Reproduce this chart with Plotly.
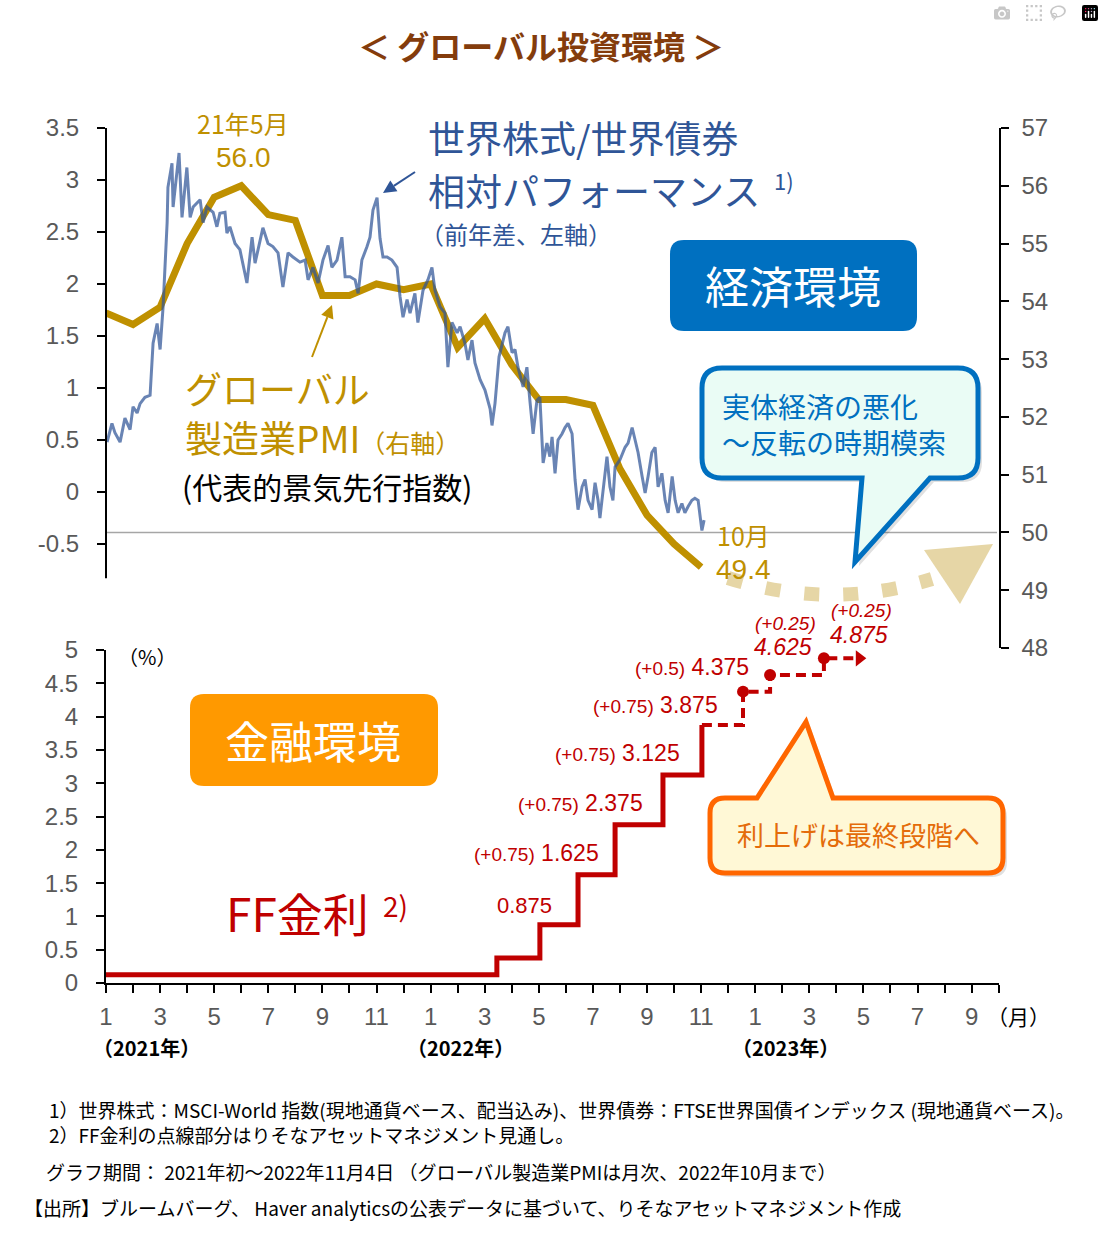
import plotly.graph_objects as go

W, H = 1104, 1246


def px(x):
    return x / W


def py(y):
    return 1 - y / H


# ---------------- data ----------------
# x positions are "months elapsed since 1 Jan 2021"
# Global manufacturing PMI (right axis), Dec-2020 .. Oct-2022, plotted at month ends
pmi_month = [0, 1, 2, 3, 4, 5, 6, 7, 8, 9, 10, 11, 12, 13, 14, 15, 16, 17, 18, 19, 20, 21, 22]
pmi_value = [53.8, 53.6, 53.9, 55.0, 55.8, 56.0, 55.5, 55.4, 54.1, 54.1, 54.3, 54.2,
             54.3, 53.2, 53.7, 52.9, 52.3, 52.3, 52.2, 51.1, 50.3, 49.8, 49.4]

# World equity / world bond relative performance (YoY, left axis)
rel_month = [0.04, 0.22, 0.33, 0.52, 0.70, 0.89, 1.00, 1.15, 1.26, 1.44, 1.63, 1.70, 1.74, 1.89,
             2.00, 2.11, 2.18, 2.26, 2.29, 2.44, 2.48, 2.62, 2.70, 2.81, 2.92, 2.99, 3.11, 3.22,
             3.48, 3.59, 3.73, 3.96, 4.10, 4.21, 4.40, 4.47, 4.58, 4.77, 4.95, 5.21, 5.40, 5.51,
             5.80, 5.99, 6.17, 6.36, 6.54, 6.73, 6.91, 7.17, 7.36, 7.47, 7.65, 7.84, 8.02, 8.21,
             8.35, 8.54, 8.72, 8.84, 9.02, 9.21, 9.32, 9.46, 9.65, 9.76, 9.87, 10.02, 10.13,
             10.24, 10.39, 10.57, 10.76, 10.87, 10.98, 11.13, 11.24, 11.42, 11.53, 11.72, 11.90,
             12.05, 12.16, 12.35, 12.53, 12.64, 12.79, 12.98, 13.09, 13.27, 13.38, 13.53, 13.64,
             13.83, 14.01, 14.20, 14.27, 14.38, 14.53, 14.75, 14.86, 15.01, 15.12, 15.23, 15.42,
             15.56, 15.67, 15.79, 15.93, 16.04, 16.16, 16.30, 16.41, 16.49, 16.60, 16.71, 16.86,
             16.97, 17.08, 17.23, 17.34, 17.45, 17.60, 17.71, 17.82, 17.97, 18.08, 18.19, 18.26,
             18.37, 18.52, 18.63, 18.74, 18.82, 19.00, 19.19, 19.30, 19.45, 19.56, 19.67, 19.82,
             19.93, 20.04, 20.18, 20.30, 20.41, 20.55, 20.67, 20.78, 20.93, 21.04, 21.15, 21.29,
             21.40, 21.52, 21.66, 21.77, 21.89, 22.03, 22.11]
rel_value = [0.48, 0.66, 0.57, 0.48, 0.71, 0.60, 0.82, 0.76, 0.85, 0.91, 0.93, 1.20, 1.43, 1.62,
             1.37, 1.78, 2.16, 2.59, 2.93, 3.16, 2.74, 3.10, 3.26, 2.64, 2.90, 3.12, 2.64, 2.74,
             2.81, 2.59, 2.74, 2.69, 2.55, 2.68, 2.69, 2.49, 2.55, 2.39, 2.33, 2.01, 2.45, 2.20,
             2.54, 2.39, 2.36, 2.30, 1.97, 2.30, 2.26, 2.21, 2.23, 2.04, 2.16, 2.01, 2.23, 2.37,
             2.16, 2.23, 2.45, 2.07, 2.07, 2.04, 1.91, 2.23, 2.36, 2.45, 2.71, 2.83, 2.44,
             2.26, 2.26, 2.23, 2.16, 1.88, 1.68, 1.85, 1.72, 1.91, 1.63, 1.94, 2.04,
             2.16, 1.94, 1.78, 1.72, 1.20, 1.63, 1.53, 1.59, 1.43, 1.27, 1.46, 1.24,
             1.08, 0.98, 0.80, 0.64, 0.85, 1.30, 1.53, 1.59, 1.34, 1.37, 1.20, 1.01,
             1.20, 0.88, 0.56, 0.88, 0.91, 0.28, 0.47, 0.34, 0.53, 0.18, 0.50, 0.56,
             0.62, 0.66, 0.56, 0.12, -0.17, 0.05, 0.12, -0.08, -0.17, 0.09, -0.08, -0.25,
             -0.01, 0.34, 0.05, -0.08, 0.24, 0.31, 0.43, 0.47, 0.62, 0.50, 0.38, 0.15,
             -0.01, 0.15, 0.38, 0.43, 0.05, 0.18, -0.08, -0.20, 0.15, -0.08, -0.20, -0.11,
             -0.20, -0.14, -0.08, -0.06, -0.08, -0.37, -0.27]

# FF rate (%), actual (solid) and outlook (dashed)
ff_month = [0, 14.45, 16.04, 17.45, 18.82, 20.59, 22.03]
ff_rate = [0.125, 0.375, 0.875, 1.625, 2.375, 3.125, 3.875]
ff_fcst_month = [22.03, 23.55, 24.55, 26.54, 27.65]
ff_fcst_rate = [3.875, 4.375, 4.625, 4.875, 4.875]
ff_dot_month = [23.55, 24.55, 26.54]
ff_dot_rate = [4.375, 4.625, 4.875]
ff_arrow_month = [27.85]
ff_arrow_rate = [4.875]

# tick labels
x_tick_vals = list(range(34))
x_tick_text = ["1", "", "3", "", "5", "", "7", "", "9", "", "11", "",
               "1", "", "3", "", "5", "", "7", "", "9", "", "11", "",
               "1", "", "3", "", "5", "", "7", "", "9", ""]
left_tick_vals = [-0.5, 0, 0.5, 1, 1.5, 2, 2.5, 3, 3.5]
left_tick_text = ["-0.5", "0", "0.5", "1", "1.5", "2", "2.5", "3", "3.5"]
right_tick_vals = [48, 49, 50, 51, 52, 53, 54, 55, 56, 57]
right_tick_text = ["48", "49", "50", "51", "52", "53", "54", "55", "56", "57"]
ff_tick_vals = [0, 0.5, 1, 1.5, 2, 2.5, 3, 3.5, 4, 4.5, 5]
ff_tick_text = ["0", "0.5", "1", "1.5", "2", "2.5", "3", "3.5", "4", "4.5", "5"]

# ---------------- styles ----------------
GOLD = "#BF9000"
BLUE_TXT = "#2F5597"
RED = "#C00000"
CJK = "Noto Sans CJK JP"
NUM = "Liberation Sans, Arial, Noto Sans CJK JP"
TICKC = "#595959"

fig = go.Figure()

fig.add_trace(go.Scatter(x=pmi_month, y=pmi_value, mode="lines", yaxis="y", xaxis="x",
                         line=dict(color=GOLD, width=7), showlegend=False, hoverinfo="skip"))
fig.add_trace(go.Scatter(x=rel_month, y=rel_value, mode="lines", yaxis="y2", xaxis="x",
                         line=dict(color="rgba(47,85,151,0.72)", width=3), showlegend=False,
                         hoverinfo="skip"))
fig.add_trace(go.Scatter(x=ff_month, y=ff_rate, mode="lines", yaxis="y3", xaxis="x",
                         line=dict(color=RED, width=5, shape="hv"), showlegend=False,
                         hoverinfo="skip"))
fig.add_trace(go.Scatter(x=ff_fcst_month, y=ff_fcst_rate, mode="lines", yaxis="y3", xaxis="x",
                         line=dict(color=RED, width=4, shape="hv", dash="10px,6px"),
                         showlegend=False, hoverinfo="skip"))
fig.add_trace(go.Scatter(x=ff_dot_month, y=ff_dot_rate, mode="markers", yaxis="y3", xaxis="x",
                         marker=dict(color=RED, size=12), showlegend=False, hoverinfo="skip"))
fig.add_trace(go.Scatter(x=ff_arrow_month, y=ff_arrow_rate, mode="markers", yaxis="y3",
                         xaxis="x", marker=dict(color=RED, size=14, symbol="triangle-right"),
                         showlegend=False, hoverinfo="skip"))

tickfont = dict(family=NUM, size=24, color=TICKC)
axis_common = dict(showgrid=False, zeroline=False, ticks="outside", ticklen=8, tickwidth=1.5,
                   tickcolor="black", tickfont=tickfont, fixedrange=True, automargin=False)

X_END = 106 + 33 * 27.05

fig.update_layout(
    template="none",
    width=W, height=H, autosize=False,
    margin=dict(l=0, r=0, t=0, b=0, pad=0, autoexpand=False),
    showlegend=False,
    font=dict(family=CJK),
    paper_bgcolor="white", plot_bgcolor="rgba(0,0,0,0)",
    xaxis=dict(domain=[px(106), px(X_END)], range=[0, 33], anchor="y3",
               tickmode="array", tickvals=x_tick_vals, ticktext=x_tick_text,
               showline=True, linecolor="black", linewidth=2, ticklabelstandoff=3,
               **axis_common),
    yaxis=dict(domain=[py(648), py(128)], range=[48, 57], side="right", anchor="x",
               tickmode="array", tickvals=right_tick_vals, ticktext=right_tick_text,
               showline=True, linecolor="black", linewidth=2, ticklabelstandoff=8,
               **axis_common),
    yaxis2=dict(overlaying="y", range=[-1.5, 3.5], side="left", anchor="x",
                tickmode="array", tickvals=left_tick_vals, ticktext=left_tick_text,
                showline=False, ticklabelstandoff=13, **axis_common),
    yaxis3=dict(domain=[py(983), py(650)], range=[0, 5], anchor="x",
                tickmode="array", tickvals=ff_tick_vals, ticktext=ff_tick_text,
                showline=True, linecolor="black", linewidth=2, ticklabelstandoff=13,
                **axis_common),
)


def P(x, y):
    return f"{px(x):.5f},{py(y):.5f}"


def bubble_path(L, T, R, B, r, tail=None, tail_side=None):
    c = [f"M {P(L + r, T)}"]
    if tail_side == "top":
        a, tip, b = tail
        c += [f"L {P(a, T)}", f"L {P(*tip)}", f"L {P(b, T)}"]
    c += [f"L {P(R - r, T)}", f"Q {P(R, T)} {P(R, T + r)}", f"L {P(R, B - r)}",
          f"Q {P(R, B)} {P(R - r, B)}"]
    if tail_side == "bottom":
        b, tip, a = tail
        c += [f"L {P(b, B)}", f"L {P(*tip)}", f"L {P(a, B)}"]
    c += [f"L {P(L + r, B)}", f"Q {P(L, B)} {P(L, B - r)}", f"L {P(L, T + r)}",
          f"Q {P(L, T)} {P(L + r, T)}", "Z"]
    return " ".join(c)


def arrow_shapes(tail, tip, color, head_len=13, head_half=6.5, width=2):
    tx, ty = tail
    hx, hy = tip
    dx, dy = hx - tx, hy - ty
    n = (dx * dx + dy * dy) ** 0.5
    ux, uy = dx / n, dy / n
    bx, by = hx - head_len * ux, hy - head_len * uy
    qx, qy = -uy * head_half, ux * head_half
    return [
        dict(type="path", xref="paper", yref="paper", path=f"M {P(tx, ty)} L {P(bx, by)}",
             line=dict(color=color, width=width)),
        dict(type="path", xref="paper", yref="paper",
             path=f"M {P(hx, hy)} L {P(bx + qx, by + qy)} L {P(bx - qx, by - qy)} Z",
             fillcolor=color, line=dict(width=0)),
    ]


shapes = []
# PMI = 50 reference line
shapes.append(dict(type="line", xref="paper", yref="y", x0=px(106), x1=px(997), y0=50, y1=50,
                   line=dict(color="#A6A6A6", width=1.5), layer="below"))
# left axis line (top panel) stops short of the panel bottom
shapes.append(dict(type="line", xref="paper", yref="y2", x0=px(106), x1=px(106), y0=-0.83,
                   y1=3.5, line=dict(color="black", width=2)))
# beige dotted curved arrow
shapes.append(dict(type="path", xref="paper", yref="paper",
                   path=f"M {P(728, 578)} Q {P(830, 611)} {P(932, 579)}",
                   line=dict(color="#E6D6A6", width=14, dash="15px,24px")))
shapes.append(dict(type="path", xref="paper", yref="paper",
                   path=f"M {P(924, 550)} L {P(993, 544)} L {P(960, 604)} Z",
                   fillcolor="#E6D6A6", line=dict(width=0)))
# 経済環境 box
shapes.append(dict(type="path", xref="paper", yref="paper",
                   path=bubble_path(670, 240, 917, 331, 14), fillcolor="#0070C0",
                   line=dict(width=0)))
# 金融環境 box
shapes.append(dict(type="path", xref="paper", yref="paper",
                   path=bubble_path(190, 694, 438, 786, 14), fillcolor="#FF9900",
                   line=dict(width=0)))
# bubble 1 (shadow + body)
b1 = dict(L=702, T=368, R=978, B=478, r=20, tail=(930, (855, 562), 862), tail_side="bottom")
shapes.append(dict(type="path", xref="paper", yref="paper",
                   path=bubble_path(b1["L"] + 4, b1["T"] + 4, b1["R"] + 4, b1["B"] + 4, 20,
                                    (934, (859, 566), 866), "bottom"),
                   fillcolor="rgba(0,0,0,0.12)", line=dict(width=0)))
shapes.append(dict(type="path", xref="paper", yref="paper",
                   path=bubble_path(**b1), fillcolor="#EAFCF5",
                   line=dict(color="#0070C0", width=5)))
# bubble 2 (shadow + body)
shapes.append(dict(type="path", xref="paper", yref="paper",
                   path=bubble_path(714, 802, 1007, 877, 15, (761, (810, 726), 837), "top"),
                   fillcolor="rgba(0,0,0,0.12)", line=dict(width=0)))
shapes.append(dict(type="path", xref="paper", yref="paper",
                   path=bubble_path(710, 798, 1003, 873, 15, (757, (806, 722), 833), "top"),
                   fillcolor="#FFF8D6", line=dict(color="#FF6600", width=5)))
# pointer arrows for the two series labels
shapes += arrow_shapes((415, 172), (383, 193), BLUE_TXT)
shapes += arrow_shapes((312, 357), (332, 305), GOLD)
fig.update_layout(shapes=shapes)

ann = []


def T(text, x, y, size, color, xanchor="center", family=CJK, yanchor="middle", align="center"):
    ann.append(dict(text=text, x=px(x), y=py(y), xref="paper", yref="paper",
                    xanchor=xanchor, yanchor=yanchor, showarrow=False, align=align,
                    font=dict(family=family, size=size, color=color)))


# title
T("<b>＜ グローバル投資環境 ＞</b>", 541, 45, 32, "#843C0C")
# top panel labels
T("21年5月", 243, 123, 25, GOLD)
T("56.0", 243, 157, 28, GOLD, family=NUM)
T("世界株式/世界債券", 426, 137, 37, BLUE_TXT, xanchor="left")
T("相対パフォーマンス", 426, 190, 37, BLUE_TXT, xanchor="left")
T("1)", 772, 180, 22, BLUE_TXT, xanchor="left")
T("（前年差、左軸）", 418, 233, 24, BLUE_TXT, xanchor="left")
T("経済環境", 793, 285, 44, "white")
T("グローバル", 183, 388, 37, GOLD, xanchor="left")
T("製造業PMI<span style='font-size:25px'>（右軸）</span>", 183, 437, 37, GOLD, xanchor="left")
T("(代表的景気先行指数)", 180, 486, 30, "black", xanchor="left")
T("実体経済の悪化<br>～反転の時期模索", 720, 424, 28, "#0070C0", xanchor="left", align="left")
T("10月", 743, 535, 25, GOLD)
T("49.4", 743, 569, 28, GOLD, family=NUM)
# bottom panel labels
T("金融環境", 313, 740, 44, "white")
T("FF金利", 224, 912, 46, RED, xanchor="left")
T("2)", 381, 905, 28, RED, xanchor="left")
T("利上げは最終段階へ", 858, 834, 27, "#E46C0A")
T("（%）", 147, 656, 20, "black")
T("0.875", 524, 905, 22, RED, family=NUM)
rate_labels = [("(+0.75)", "1.625", 601, 853), ("(+0.75)", "2.375", 645, 803),
               ("(+0.75)", "3.125", 682, 753), ("(+0.75)", "3.875", 720, 705),
               ("(+0.5)", "4.375", 751, 667)]
for chg, lvl, xr, yy in rate_labels:
    T(f"<span style='font-size:19px'>{chg}</span> {lvl}", xr, yy, 23, RED,
      xanchor="right", family=NUM)
T("<i>(+0.25)</i>", 785, 623, 19, RED, family=NUM)
T("<i>4.625</i>", 783, 647, 23, RED, family=NUM)
T("<i>(+0.25)</i>", 861, 610, 19, RED, family=NUM)
T("<i>4.875</i>", 859, 635, 23, RED, family=NUM)
# x-axis extras
T("（月）", 1018, 1016, 21, "black")
T("<b>（2021年）</b>", 146, 1047, 20, "black")
T("<b>（2022年）</b>", 460, 1047, 20, "black")
T("<b>（2023年）</b>", 785, 1047, 20, "black")
# footnotes
T("1）世界株式：MSCI-World 指数(現地通貨ベース、配当込み)、世界債券：FTSE世界国債インデックス (現地通貨ベース)。"
  "<br>2）FF金利の点線部分はりそなアセットマネジメント見通し。",
  47, 1122, 19, "black", xanchor="left", align="left")
T("グラフ期間： 2021年初～2022年11月4日 （グローバル製造業PMIは月次、2022年10月まで）",
  44, 1171, 19, "black", xanchor="left")
T("【出所】ブルームバーグ、 Haver analyticsの公表データに基づいて、りそなアセットマネジメント作成",
  22, 1207, 19, "black", xanchor="left")

fig.update_layout(annotations=ann)

fig.write_html("out.html", post_script="document.body.style.margin='0px';")
